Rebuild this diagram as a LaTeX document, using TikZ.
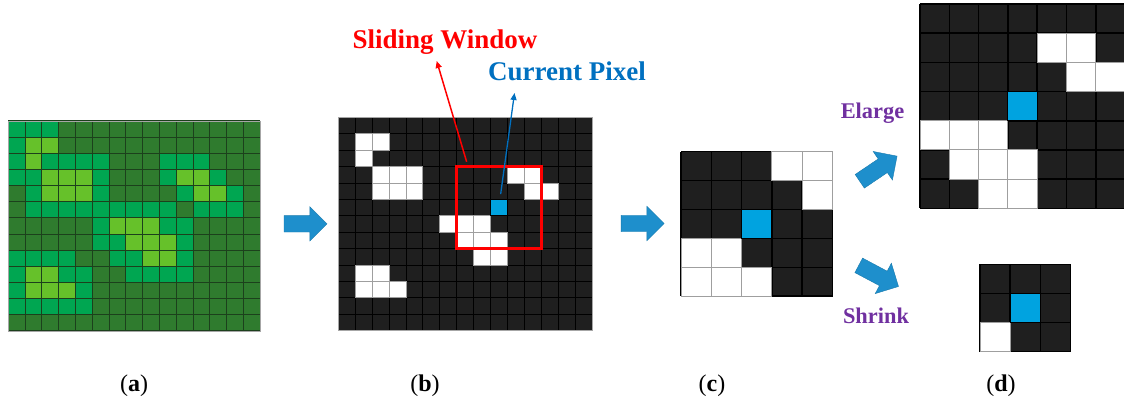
\documentclass[tikz,border=0pt]{standalone}
\usepackage{fontspec}
\setmainfont{Liberation Serif}
\usetikzlibrary{shapes.arrows,arrows.meta}
\definecolor{gD}{HTML}{2F7B2E}
\definecolor{gM}{HTML}{00A651}
\definecolor{gL}{HTML}{66C12A}
\definecolor{gLine}{HTML}{1C401C}
\definecolor{cellK}{HTML}{1F1F1F}
\definecolor{pixB}{HTML}{00A3E0}
\definecolor{arrB}{HTML}{1E8FCC}
\definecolor{txtB}{HTML}{0070C0}
\definecolor{txtP}{HTML}{7030A0}
\definecolor{winR}{HTML}{FF0000}
\newcommand\bgrid[4]{%
  \fill[cellK] (0,0) rectangle (#1,#2);
  \foreach \i in {0,...,#1} \draw[kline] (\i,0) -- (\i,#2);
  \foreach \j in {0,...,#2} \draw[kline] (0,\j) -- (#1,\j);
  \foreach \c/\r in {#3} \filldraw[wcell] (\c,\r) rectangle ++(1,1);
  \filldraw[bcell] (#4) rectangle ++(1,1);
}
\tikzset{
  kline/.style={black, line width=1pt},
  wcell/.style={fill=white, draw=gray!75, line width=1pt},
  bcell/.style={fill=pixB, draw=black, line width=1pt},
  blockarrow/.style={single arrow, fill=arrB, draw=arrB!85!black, line width=0.4pt,
    minimum height=43pt, minimum width=0pt, inner sep=0pt, inner ysep=8pt,
    single arrow head extend=9pt, outer sep=0pt},
  panellabel/.style={font=\fontsize{24}{24}\selectfont, anchor=base},
  bigtext/.style={font=\fontsize{27}{27}\selectfont\bfseries, anchor=base},
  midtext/.style={font=\fontsize{22.4}{22.4}\selectfont\bfseries, anchor=base, text=txtP},
  pointer/.style={line width=1.5pt, -{Triangle[length=7pt,width=6pt]}}
}
\begin{document}
\begin{tikzpicture}[x=1pt,y=-1pt]
\useasboundingbox (0,0) rectangle (1124,398);

% ---------- panel (a)
\begin{scope}[shift={(8.3,121)}, x=16.8pt, y=-16.15pt]
  \fill[gD] (0,0) rectangle (15,13);
  \foreach \c/\r in {0/0,1/0,2/0, 0/1,
      0/2,2/2,3/2,4/2,5/2,9/2,10/2,11/2,
      0/3,1/3,5/3,9/3,12/3,
      1/4,5/4,10/4,13/4,
      1/5,2/5,3/5,4/5,5/5,6/5,7/5,8/5,9/5,11/5,12/5,13/5,
      5/6,9/6,10/6,
      5/7,6/7,10/7,
      0/8,1/8,2/8,3/8,6/8,7/8,10/8,
      0/9,3/9,4/9,7/9,8/9,9/9,10/9,
      0/10,4/10,
      0/11,1/11,2/11,3/11,4/11}
    \fill[gM] (\c,\r) rectangle ++(1,1);
  \foreach \c/\r in {1/1,2/1,1/2,2/3,3/3,4/3,10/3,11/3,2/4,3/4,4/4,11/4,12/4,
      6/6,7/6,8/6,7/7,8/7,9/7,8/8,9/8,1/9,2/9,1/10,2/10,3/10}
    \fill[gL] (\c,\r) rectangle ++(1,1);
  \foreach \i in {0,...,15} \draw[gLine, line width=1pt] (\i,0) -- (\i,13);
  \foreach \j in {0,...,13} \draw[gLine, line width=1pt] (0,\j) -- (15,\j);
  \draw[gray!70, line width=0.8pt] (0,0) rectangle (15,13);
\end{scope}

% ---------- panel (b)
\begin{scope}[shift={(338.3,117.5)}, x=16.93pt, y=-16.4pt]
  \bgrid{15}{13}{1/1,2/1,1/2,2/3,3/3,4/3,10/3,11/3,2/4,3/4,4/4,11/4,12/4,
      6/6,7/6,8/6,7/7,8/7,9/7,8/8,9/8,1/9,2/9,1/10,2/10,3/10}{9,5}
  \draw[gray!70, line width=0.8pt] (0,0) rectangle (15,13);
  \draw[winR, line width=3pt] (7,3) rectangle (12,8);
  \coordinate (wstart) at (7.58,2.7);
  \coordinate (pstart) at (9.59,4.67);
\end{scope}

% ---------- panel (c)
\begin{scope}[shift={(681,151.7)}, x=30.3pt, y=-28.9pt, kline/.append style={line width=1.5pt}]
  \bgrid{5}{5}{3/0,4/0,4/1,0/3,1/3,0/4,1/4,2/4}{2,2}
\end{scope}

% ---------- panel (d) top
\begin{scope}[shift={(920,4)}, x=29.3pt, y=-29.2pt, kline/.append style={line width=1.5pt}]
  \bgrid{7}{7}{4/1,5/1,5/2,6/2,0/4,1/4,2/4,1/5,2/5,3/5,2/6,3/6}{3,3}
\end{scope}

% ---------- panel (d) bottom
\begin{scope}[shift={(980,264.3)}, x=30.2pt, y=-29.1pt, kline/.append style={line width=1.5pt}]
  \bgrid{3}{3}{0/2}{1,1}
\end{scope}

% ---------- labels with pointers
\node[bigtext, text=winR] (slw) at (445,49) {Sliding Window};
\node[bigtext, text=txtB] (cpx) at (567,81) {Current Pixel};
\coordinate (slwtip) at (436.7,61);
\coordinate (cpxtip) at (514.5,93);
\draw[pointer, winR] (wstart) -- (slwtip);
\draw[pointer, txtB, line width=1.3pt] (pstart) -- (cpxtip);

% ---------- block arrows
\node[blockarrow] (arrAB) at (301.4,223.8) {};
\node[blockarrow] (arrBC) at (638.5,223.5) {};
\node[blockarrow, minimum height=45pt, rotate=34] (arrUp) at (875,171) {};
\node[blockarrow, minimum height=45pt, rotate=-28] (arrDn) at (875,274) {};

\node[midtext] (elg) at (872.5,118.3) {Elarge};
\node[midtext] (shr) at (876,323.3) {Shrink};

% ---------- panel captions
\node[panellabel] (la) at (134,391.5) {(\textbf{a})};
\node[panellabel] (lb) at (425,391.5) {(\textbf{b})};
\node[panellabel] (lc) at (712,391.5) {(\textbf{c})};
\node[panellabel] (ld) at (1001,391.5) {(\textbf{d})};
\end{tikzpicture}
\end{document}
